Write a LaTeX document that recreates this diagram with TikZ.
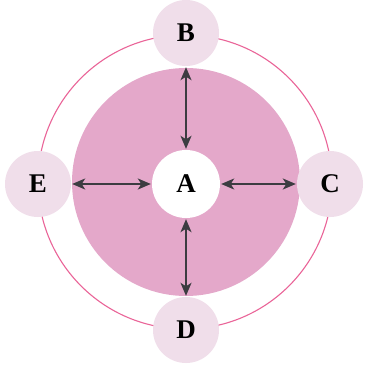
\documentclass[tikz,border=0pt]{standalone}
\usetikzlibrary{arrows.meta}
\usepackage{fontspec}
\setmainfont{Liberation Serif}
\definecolor{diskpink}{RGB}{228,168,202}
\definecolor{smallpink}{RGB}{240,222,234}
\definecolor{ringpink}{RGB}{234,100,152}
\definecolor{arrowgray}{RGB}{60,60,65}
\begin{document}
\begin{tikzpicture}[x=1pt,y=-1pt,
  outer/.style={circle,fill=smallpink,minimum size=66pt,inner sep=0pt,font=\fontsize{27}{27}\selectfont\bfseries},
  center/.style={circle,fill=white,minimum size=68pt,inner sep=0pt,font=\fontsize{27}{27}\selectfont\bfseries},
  link/.style={arrowgray,line width=1.6pt,{Stealth[length=13pt,width=11pt,inset=3.5pt]}-{Stealth[length=13pt,width=11pt,inset=3.5pt]},shorten <=1pt,shorten >=1pt}]
\useasboundingbox (0,0) rectangle (364,366);
\fill[white] (0,0) rectangle (364,366);
\draw[ringpink,line width=1.1pt] (185,182) circle (147);
\fill[diskpink] (186,182) circle (114);
\node[center] (A) at (186,184) {A};
\node[outer] (B) at (186,33) {B};
\node[outer] (C) at (330,184) {C};
\node[outer] (D) at (186,330) {D};
\node[outer] (E) at (38,184) {E};
\draw[link] (A) -- (B);
\draw[link] (A) -- (C);
\draw[link] (A) -- (D);
\draw[link] (A) -- (E);
\end{tikzpicture}
\end{document}
